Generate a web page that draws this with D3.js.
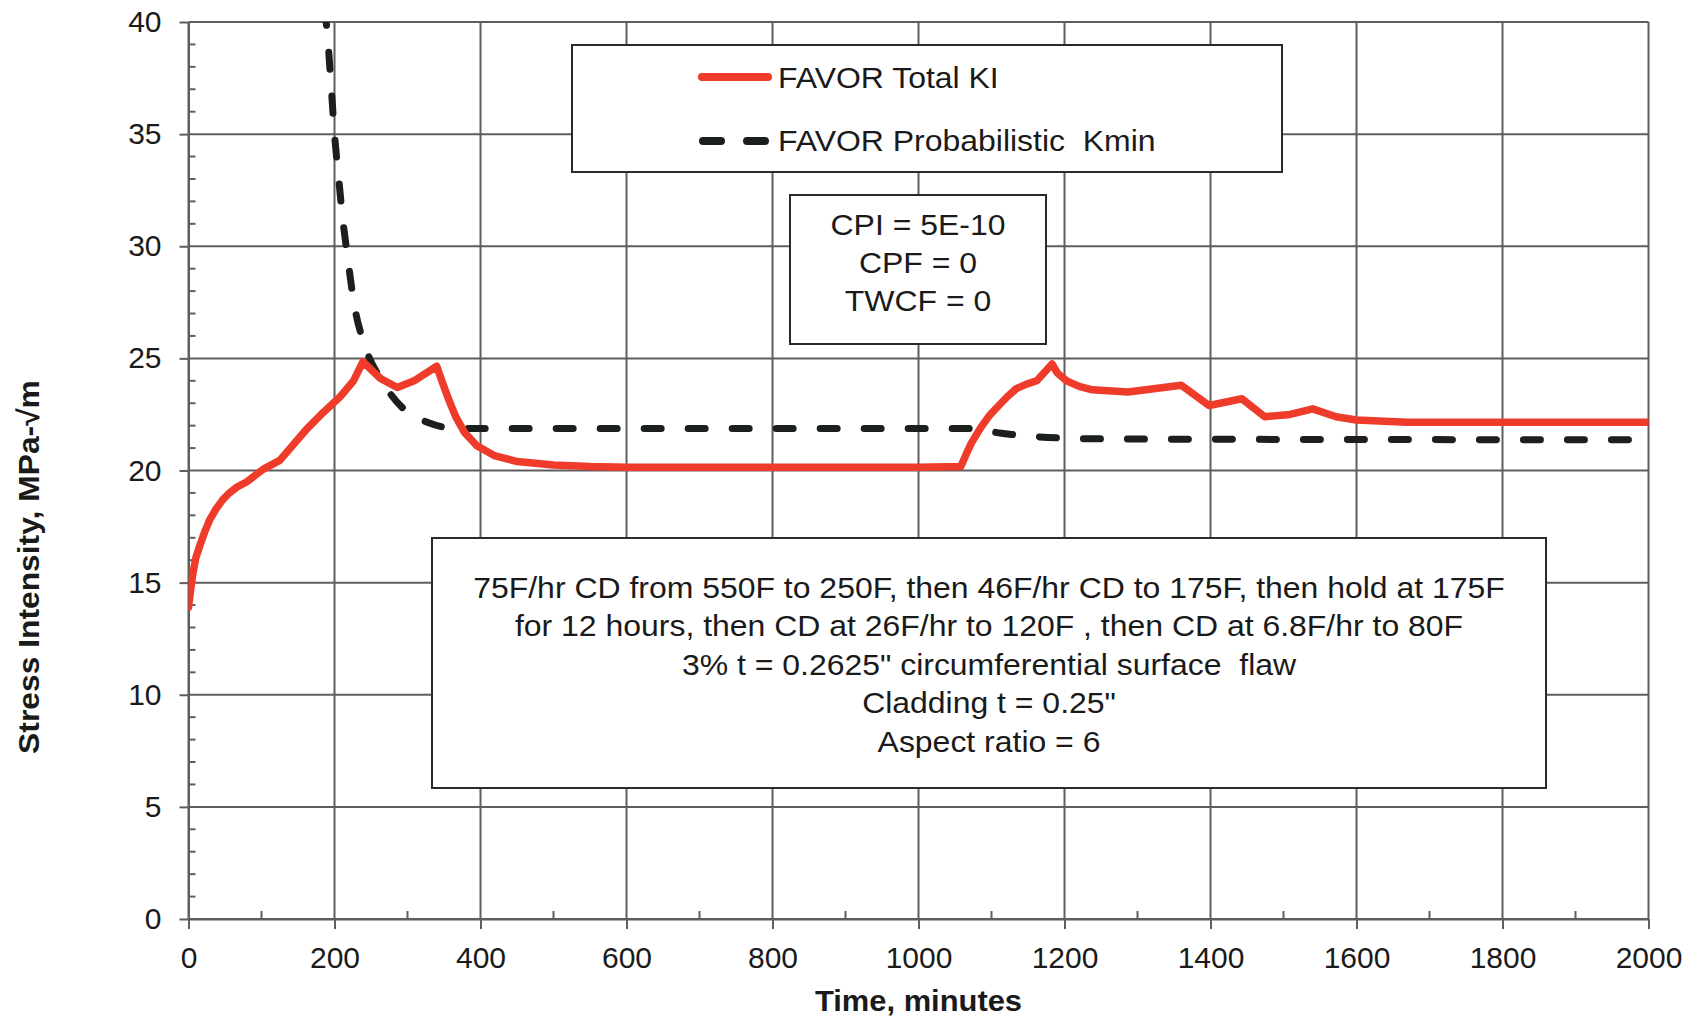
<!DOCTYPE html>
<html>
<head>
<meta charset="utf-8">
<title>FAVOR Total KI vs Kmin</title>
<script src="https://d3js.org/d3.v7.min.js"></script>
<style>
  body { margin: 0; background: #fff; }
  svg { font-family: "Liberation Sans", Arial, sans-serif; }
  text { white-space: pre; }
</style>
</head>
<body>
<svg width="1695" height="1019"></svg>
<script>
// --- data ---
var totalTime = [0, 3, 6, 10, 15, 22, 29, 38, 47, 56, 66, 80, 102, 125, 162, 185, 208, 226, 239, 263, 286, 309, 340,
                 347, 356, 366, 378, 395, 420, 450, 500, 550, 600, 800, 1000, 1058, 1065, 1072, 1085, 1097, 1110, 1122, 1134,
                 1148, 1162, 1183, 1190, 1203, 1220, 1238, 1287, 1360, 1398, 1443, 1474, 1509, 1540, 1572, 1600, 1669, 2000];
var totalKI   = [13.9, 14.7, 15.4, 16.1, 16.6, 17.25, 17.8, 18.3, 18.7, 19.0, 19.25, 19.5, 20.05, 20.45, 21.85, 22.6, 23.3, 24.0, 24.85, 24.1, 23.7, 24.0, 24.65,
                 24.0, 23.2, 22.4, 21.7, 21.1, 20.65, 20.4, 20.25, 20.18, 20.15, 20.15, 20.15, 20.18, 20.7, 21.2, 21.9, 22.45, 22.9, 23.3, 23.65,
                 23.85, 24.0, 24.75, 24.35, 24.0, 23.75, 23.6, 23.5, 23.8, 22.9, 23.2, 22.4, 22.5, 22.75, 22.4, 22.25, 22.15, 22.15];

var kminTime = [186, 188.6, 195.5, 200, 205.5, 211, 218, 227, 239, 248, 263, 277, 300, 327, 359, 400,
                1085, 1103, 1130, 1165, 1228, 1300, 2000];
var kminVal  = [40.6, 40, 37.1, 35, 33.1, 31.3, 29.5, 27.4, 25.8, 25.0, 24.1, 23.4, 22.6, 22.15, 21.9, 21.87,
                21.87, 21.72, 21.6, 21.5, 21.42, 21.4, 21.37];

var xTicks = [0, 200, 400, 600, 800, 1000, 1200, 1400, 1600, 1800, 2000];
var yTicks = [0, 5, 10, 15, 20, 25, 30, 35, 40];

var legendLabels = ["FAVOR Total KI", "FAVOR Probabilistic  Kmin"];
var resultLines = ["CPI = 5E-10", "CPF = 0", "TWCF = 0"];
var caseLines = [
  "75F/hr CD from 550F to 250F, then 46F/hr CD to 175F, then hold at 175F",
  "for 12 hours, then CD at 26F/hr to 120F , then CD at 6.8F/hr to 80F",
  "3% t = 0.2625\" circumferential surface  flaw",
  "Cladding t = 0.25\"",
  "Aspect ratio = 6"
];

var svg = d3.select("svg");
var plotLeft = 188.5, plotRight = 1648.5, plotTop = 22, plotBottom = 919;
var gridColor = "#5e5e5e", redColor = "#ef3b2a", dashColor = "#1b201d", textColor = "#1a1a1a";
var stretch = 1.065;   // the scanned text runs a bit wide

var x = d3.scaleLinear().domain([0, 2000]).range([plotLeft, plotRight]);
var y = d3.scaleLinear().domain([0, 40]).range([plotBottom, plotTop]);

// grid lines
svg.append("g").selectAll("line").data(xTicks).enter().append("line")
  .attr("x1", function(d) { return x(d); }).attr("x2", function(d) { return x(d); })
  .attr("y1", plotTop).attr("y2", plotBottom)
  .attr("stroke", gridColor).attr("stroke-width", 2);
svg.append("g").selectAll("line").data(yTicks).enter().append("line")
  .attr("x1", plotLeft).attr("x2", plotRight)
  .attr("y1", function(d) { return y(d); }).attr("y2", function(d) { return y(d); })
  .attr("stroke", gridColor).attr("stroke-width", 2);

// minor ticks
var yMinor = d3.range(0, 41).filter(function(d) { return d % 5 != 0; });
var xMinor = d3.range(100, 2000, 200);
svg.append("g").selectAll("line").data(yMinor).enter().append("line")
  .attr("x1", plotLeft).attr("x2", plotLeft + 7)
  .attr("y1", function(d) { return y(d); }).attr("y2", function(d) { return y(d); })
  .attr("stroke", gridColor).attr("stroke-width", 2);
svg.append("g").selectAll("line").data(xMinor).enter().append("line")
  .attr("x1", function(d) { return x(d); }).attr("x2", function(d) { return x(d); })
  .attr("y1", plotBottom).attr("y2", plotBottom - 8)
  .attr("stroke", gridColor).attr("stroke-width", 2);

// axes
function styleAxis(g) {
  g.select(".domain").attr("stroke", gridColor).attr("stroke-width", 2);
  g.selectAll(".tick line").attr("stroke", gridColor).attr("stroke-width", 2);
  g.selectAll(".tick text").attr("fill", textColor).style("font-size", "30px")
    .style("font-family", "'Liberation Sans', Arial, sans-serif");
}
svg.append("g")
  .attr("transform", "translate(0," + plotBottom + ")")
  .call(d3.axisBottom(x).tickValues(xTicks).tickFormat(d3.format("d"))
    .tickSize(10).tickSizeOuter(0).tickPadding(18))
  .call(styleAxis);
svg.append("g")
  .attr("transform", "translate(" + plotLeft + ",0)")
  .call(d3.axisLeft(y).tickValues(yTicks).tickFormat(d3.format("d"))
    .tickSize(9).tickSizeOuter(0).tickPadding(18))
  .call(styleAxis);

// axis titles
svg.append("text")
  .attr("transform", "translate(" + ((plotLeft + plotRight) / 2) + ",1011) scale(1.03,1)")
  .attr("text-anchor", "middle").attr("font-weight", "bold").attr("font-size", 30).attr("fill", textColor)
  .text("Time, minutes");
svg.append("text")
  .attr("transform", "translate(39,567) rotate(-90) scale(1.06,1)")
  .attr("text-anchor", "middle").attr("font-weight", "bold").attr("font-size", 30).attr("fill", textColor)
  .text("Stress Intensity, MPa-\u221Am");

// curves
svg.append("clipPath").attr("id", "plot")
  .append("rect").attr("x", plotLeft).attr("y", plotTop)
  .attr("width", plotRight - plotLeft).attr("height", plotBottom - plotTop);

var kminLine = d3.line()
  .x(function(d, i) { return x(kminTime[i]); })
  .y(function(d) { return y(d); })
  .curve(d3.curveMonotoneX);
var totalLine = d3.line()
  .x(function(d, i) { return x(totalTime[i]); })
  .y(function(d) { return y(d); });

svg.append("path").datum(kminVal)
  .attr("clip-path", "url(#plot)")
  .attr("d", kminLine)
  .attr("fill", "none").attr("stroke", dashColor).attr("stroke-width", 7)
  .attr("stroke-linecap", "round").attr("stroke-dasharray", "17,27");
svg.append("path").datum(totalKI)
  .attr("clip-path", "url(#plot)")
  .attr("d", totalLine)
  .attr("fill", "none").attr("stroke", redColor).attr("stroke-width", 7.5)
  .attr("stroke-linejoin", "round").attr("stroke-linecap", "round");

// text helper: stretched horizontally around its anchor point
function addText(g, tx, ty, str, anchor) {
  return g.append("text")
    .attr("transform", "translate(" + tx + "," + ty + ") scale(" + stretch + ",1)")
    .attr("text-anchor", anchor).attr("font-size", 30).attr("fill", textColor)
    .text(str);
}

// legend box
var legend = svg.append("g");
legend.append("rect").attr("x", 572).attr("y", 45).attr("width", 710).attr("height", 127)
  .attr("fill", "#fff").attr("stroke", "#2a2a2a").attr("stroke-width", 2);
legend.append("line").attr("x1", 702).attr("x2", 768).attr("y1", 77).attr("y2", 77)
  .attr("stroke", redColor).attr("stroke-width", 8).attr("stroke-linecap", "round");
legend.append("line").attr("x1", 703).attr("x2", 768).attr("y1", 141).attr("y2", 141)
  .attr("stroke", dashColor).attr("stroke-width", 8).attr("stroke-linecap", "round")
  .attr("stroke-dasharray", "18,26");
legendLabels.forEach(function(d, i) { addText(legend, 778, 88 + i * 63, d, "start"); });

// result box
var res = svg.append("g");
res.append("rect").attr("x", 790).attr("y", 195).attr("width", 256).attr("height", 149)
  .attr("fill", "#fff").attr("stroke", "#2a2a2a").attr("stroke-width", 2);
resultLines.forEach(function(d, i) { addText(res, 918, 235 + i * 38, d, "middle"); });

// case description box
var cas = svg.append("g");
cas.append("rect").attr("x", 432).attr("y", 538).attr("width", 1114).attr("height", 250)
  .attr("fill", "#fff").attr("stroke", "#2a2a2a").attr("stroke-width", 2);
caseLines.forEach(function(d, i) { addText(cas, 989, 598 + i * 38.4, d, "middle"); });
</script>
</body>
</html>
